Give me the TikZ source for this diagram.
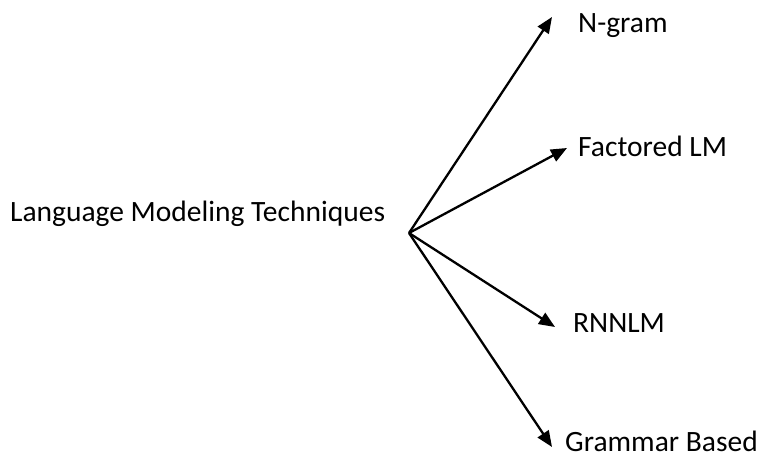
\documentclass[tikz,border=0pt]{standalone}
\usepackage{fontspec}
\setmainfont{Carlito}
\usetikzlibrary{arrows.meta}
\begin{document}
\begin{tikzpicture}[x=1pt,y=-1pt,
  label/.style={anchor=base west,inner sep=0pt,font=\fontsize{29.5}{34}\selectfont},
  branch/.style={line width=2.3pt,-{Triangle[length=16pt,width=13pt]}}]
  \useasboundingbox (0,0) rectangle (757,457);
  % root label and the point all branches start from
  \node[label] (lmt) at (10,222) {Language Modeling Techniques};
  \coordinate (root) at (409,233);
  % technique labels
  \node[label] (ngram) at (578,33) {N-gram};
  \node[label] (flm) at (578,157) {Factored LM};
  \node[label] (rnn) at (573,332) {RNNLM};
  \node[label] (gram) at (565,451) {Grammar Based};
  % arrow tips
  \coordinate (tngram) at (552,17);
  \coordinate (tflm) at (567,148);
  \coordinate (trnn) at (555,327);
  \coordinate (tgram) at (552,447);
  \draw[branch] (root) -- (tngram);
  \draw[branch] (root) -- (tflm);
  \draw[branch] (root) -- (trnn);
  \draw[branch] (root) -- (tgram);
\end{tikzpicture}
\end{document}
